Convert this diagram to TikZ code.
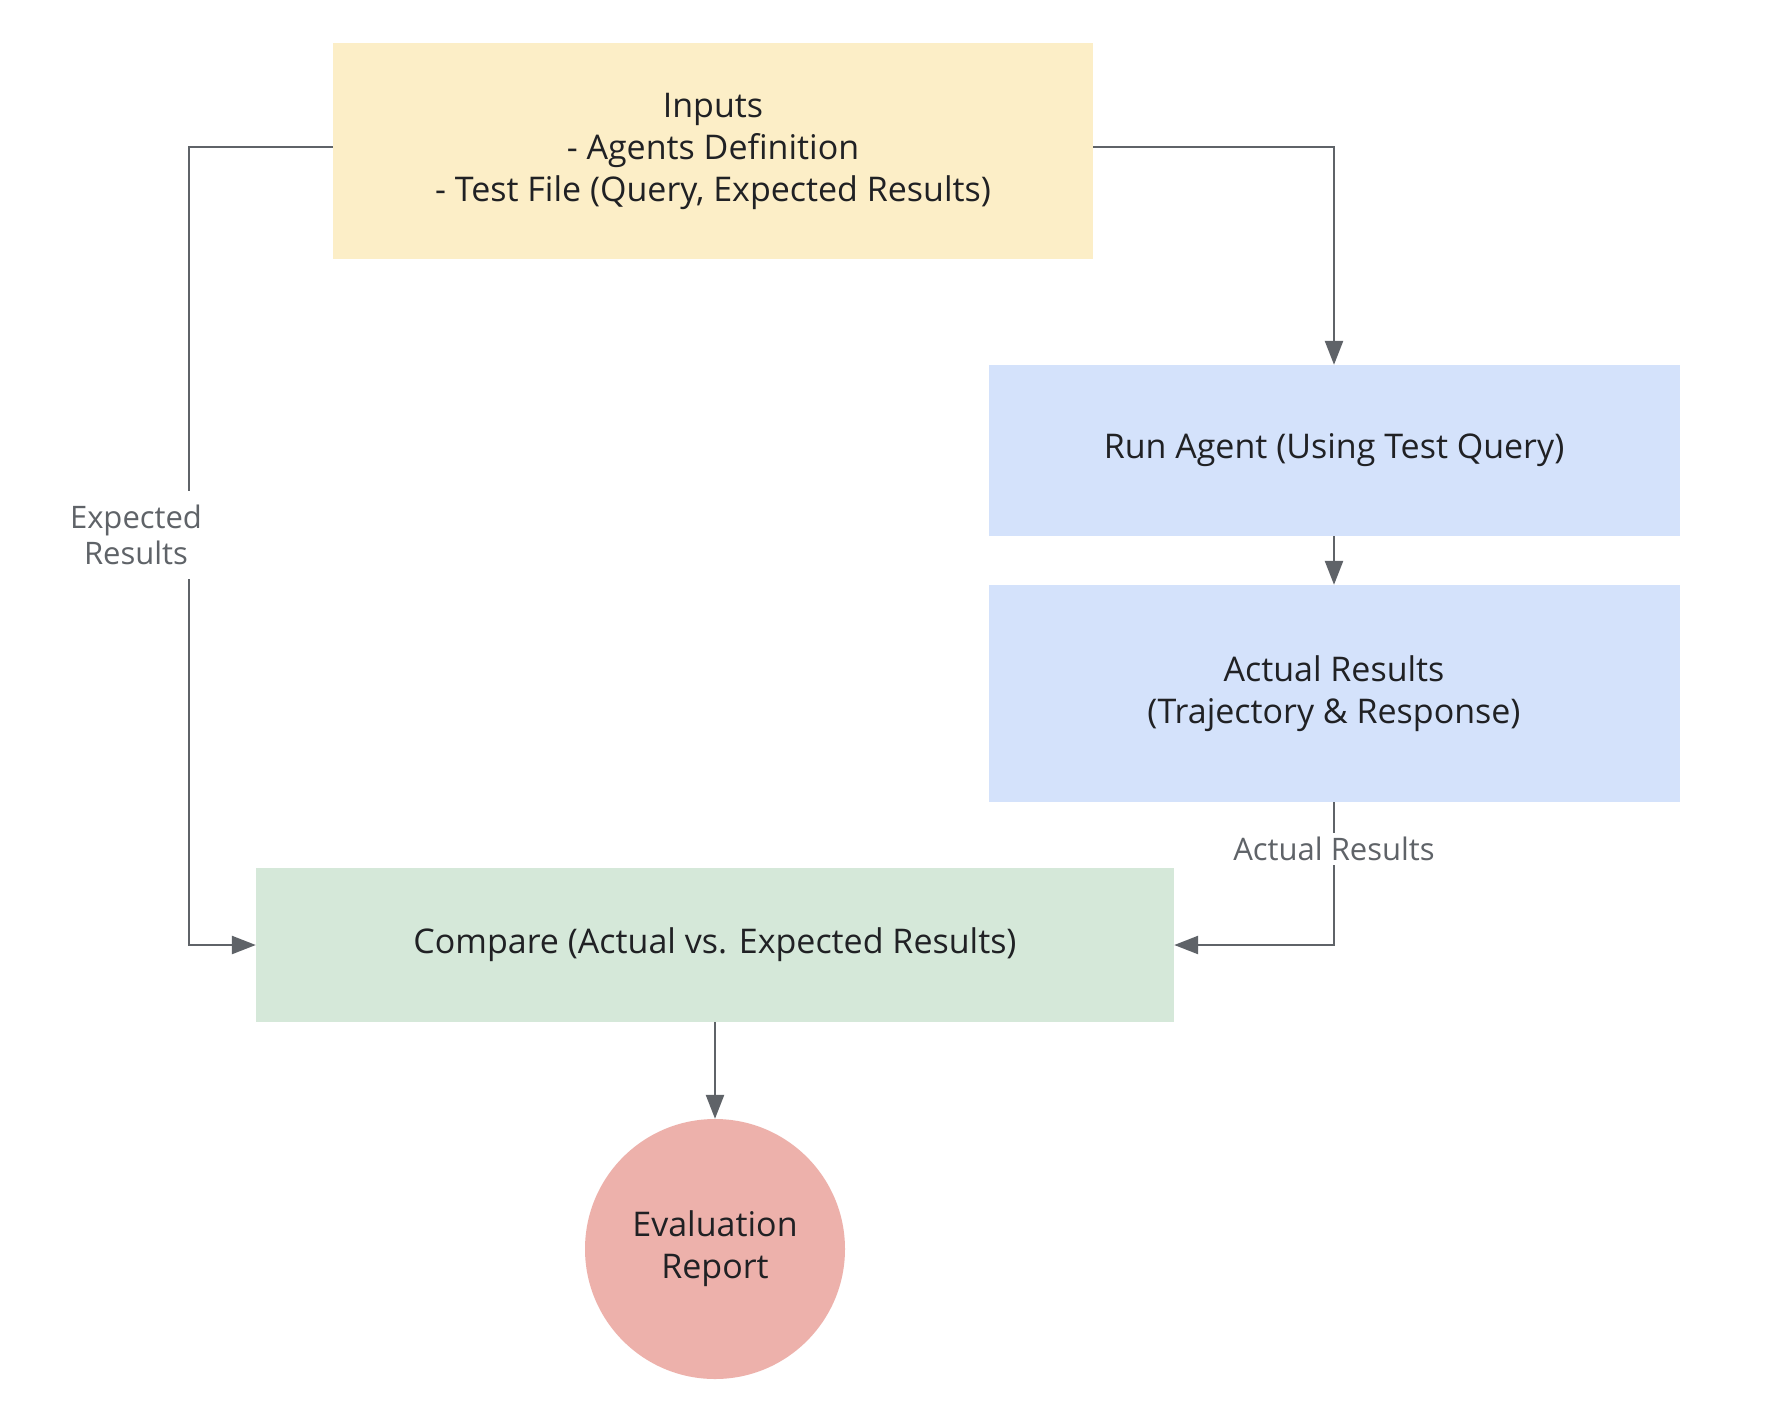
\documentclass[tikz,border=0pt]{standalone}
\usepackage{fontspec}
\setmainfont{Open Sans}
\usetikzlibrary{arrows.meta}
\definecolor{inyellow}{HTML}{FCEEC7}
\definecolor{runblue}{HTML}{D4E2FB}
\definecolor{cmpgreen}{HTML}{D5E8D9}
\definecolor{reppink}{HTML}{EDB1AB}
\definecolor{txt}{HTML}{202124}
\definecolor{conncol}{HTML}{5F6368}
\tikzset{
  box/.style={rectangle, inner sep=0pt, draw=none, align=center, text=txt,
    font=\fontsize{34}{42}\selectfont},
  conn/.style={draw=conncol, line width=2.5pt,
    -{Triangle[length=24pt,width=18pt]}},
  lbl/.style={fill=white, text=conncol, align=center, inner xsep=2pt,
    font=\fontsize{31}{36}\selectfont}
}
\begin{document}
\begin{tikzpicture}[x=1pt,y=-1pt]
\useasboundingbox[fill=white] (0,0) rectangle (1774,1418);
\node[box, fill=inyellow, minimum width=760pt, minimum height=216pt] (inputs) at (713,151)
  {Inputs\\- Agents Definition\\- Test File (Query, Expected Results)};
\node[box, fill=runblue, minimum width=691pt, minimum height=171pt] (run) at (1334,450.5)
  {Run Agent (Using Test Query)};
\node[box, fill=runblue, minimum width=691pt, minimum height=217pt] (actual) at (1334,693.5)
  {Actual Results\\(Trajectory \& Response)};
\node[box, fill=cmpgreen, minimum width=918pt, minimum height=154pt] (compare) at (715,945)
  {Compare (Actual vs. Expected Results)};
\node[box, circle, fill=reppink, minimum size=260pt] (report) at (715,1249)
  {Evaluation\\Report};

\draw[conn] ([yshift=4pt]inputs.west) -- ++(-144,0) |- (compare.west);
\node[lbl, inner ysep=14pt] (explbl) at (136,535) {Expected\\Results};
\draw[conn] ([yshift=4pt]inputs.east) -| (run.north);
\draw[conn] (run) -- (actual);
\draw[conn] (actual.south) |- (compare.east);
\node[lbl, inner ysep=4pt] (actlbl) at (1334,849) {Actual Results};
\draw[conn] (compare) -- (report);
\end{tikzpicture}
\end{document}
